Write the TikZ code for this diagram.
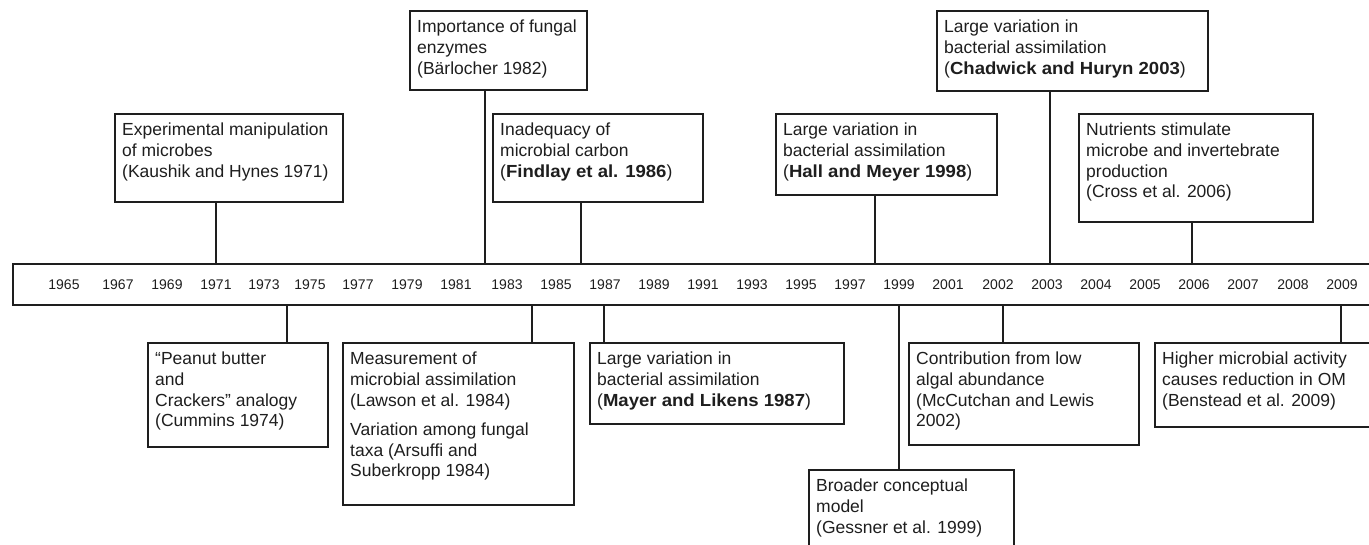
\documentclass[tikz,border=0pt]{standalone}
\usepackage{fontspec}
\setmainfont{Liberation Sans}[BoldFeatures={FakeStretch=1.06}]
\definecolor{ink}{HTML}{1E1E1E}
\newcommand\tlbox[6]{%
  \node[frame, minimum width=#4pt, minimum height=#5pt] (#1) at (#2,#3) {};
  \node[txt] (#1t) at ([shift={(7,9)}]#1.north west) {#6};}
\begin{document}
\begin{tikzpicture}[x=1pt,y=-1pt,
  frame/.style={draw=ink, line width=1.4pt, inner sep=0pt, outer sep=0pt, anchor=north west},
  txt/.style={anchor=north west, inner sep=0pt, align=left, text=ink, font=\fontsize{17.5}{20.6}\selectfont},
  yr/.style={inner sep=0pt, text=ink, font=\fontsize{14}{16}\selectfont},
  conn/.style={draw=ink, line width=1.4pt}]
\useasboundingbox (0,0) rectangle (1369,544);
\clip (0,0) rectangle (1369,544);

% timeline bar
\node[frame, minimum width=1365pt, minimum height=41pt] (bar) at (13,264) {};
\foreach \yy/\xx in {1965/64,1967/118,1969/167,1971/216,1973/264,1975/310,1977/358,1979/407,
  1981/456,1983/507,1985/556,1987/605,1989/654,1991/703,1993/752,1995/801,1997/850,1999/899,
  2001/948,2002/998,2003/1047,2004/1096,2005/1145,2006/1194,2007/1243,2008/1293,2009/1342}
  \node[yr] (y\yy) at (\xx,285) {\yy};

% upper boxes
\tlbox{exp}{115}{114}{228}{88}{Experimental manipulation\\of microbes\\(Kaushik and Hynes 1971)}
\tlbox{barl}{410}{11}{177}{79}{Importance of fungal\\enzymes\\(Bärlocher 1982)}
\tlbox{find}{493}{114}{210}{88}{Inadequacy of\\microbial carbon\\(\textbf{Findlay et al. 1986})}
\tlbox{hall}{776}{114}{221}{81}{Large variation in\\bacterial assimilation\\(\textbf{Hall and Meyer 1998})}
\tlbox{chad}{937}{11}{271}{80}{Large variation in\\bacterial assimilation\\(\textbf{Chadwick and Huryn 2003})}
\tlbox{cross}{1079}{114}{234}{108}{Nutrients stimulate\\microbe and invertebrate\\production\\(Cross et al. 2006)}

% lower boxes
\tlbox{pean}{148}{343}{180}{104}{“Peanut butter\\and\\Crackers” analogy\\(Cummins 1974)}
\tlbox{laws}{343}{343}{231}{162}{Measurement of\\microbial assimilation\\(Lawson et al. 1984)\\[9pt]Variation among fungal\\taxa (Arsuffi and\\Suberkropp 1984)}
\tlbox{mayer}{590}{343}{254}{81}{Large variation in\\bacterial assimilation\\(\textbf{Mayer and Likens 1987})}
\tlbox{mccut}{909}{343}{230}{102}{Contribution from low\\algal abundance\\(McCutchan and Lewis\\2002)}
\tlbox{bens}{1155}{343}{220}{84}{Higher microbial activity\\causes reduction in OM\\(Benstead et al. 2009)}
\tlbox{gess}{809}{470}{205}{90}{Broader conceptual\\model\\(Gessner et al. 1999)}

% connector positions
\coordinate (c1971) at (216,0);
\coordinate (c1982) at (485,0);
\coordinate (c1986) at (581,0);
\coordinate (c1998) at (875,0);
\coordinate (c2003) at (1050,0);
\coordinate (c2006) at (1192,0);
\coordinate (c1974) at (287,0);
\coordinate (c1984) at (532,0);
\coordinate (c1987) at (604,0);
\coordinate (c1999) at (899,0);
\coordinate (c2002) at (1003,0);
\coordinate (c2009) at (1341,0);

\draw[conn] (exp.south -| c1971) -- (bar.north -| c1971);
\draw[conn] (barl.south -| c1982) -- (bar.north -| c1982);
\draw[conn] (find.south -| c1986) -- (bar.north -| c1986);
\draw[conn] (hall.south -| c1998) -- (bar.north -| c1998);
\draw[conn] (chad.south -| c2003) -- (bar.north -| c2003);
\draw[conn] (cross.south -| c2006) -- (bar.north -| c2006);
\draw[conn] (bar.south -| c1974) -- (pean.north -| c1974);
\draw[conn] (bar.south -| c1984) -- (laws.north -| c1984);
\draw[conn] (bar.south -| c1987) -- (mayer.north -| c1987);
\draw[conn] (bar.south -| c1999) -- (gess.north -| c1999);
\draw[conn] (bar.south -| c2002) -- (mccut.north -| c2002);
\draw[conn] (bar.south -| c2009) -- (bens.north -| c2009);
\end{tikzpicture}
\end{document}
